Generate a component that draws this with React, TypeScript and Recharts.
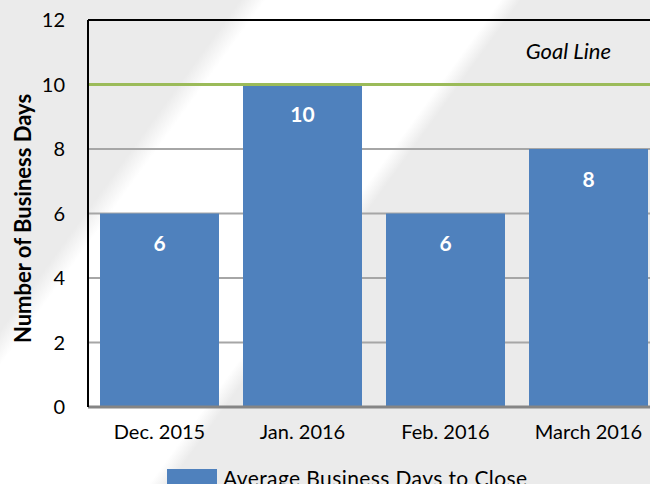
import React from 'react';
import { BarChart, Bar, XAxis, YAxis, CartesianGrid, ReferenceLine, LabelList, Legend } from 'recharts';

const months = ['Dec. 2015', 'Jan. 2016', 'Feb. 2016', 'March 2016'];
const avgDays = [6, 10, 6, 8];
const yTicks = [0, 2, 4, 6, 8, 10, 12];
const goalValue = 10;
const seriesName = 'Average Business Days to Close';

const data = months.map((m, i) => ({ month: m, days: avgDays[i] }));

const FONT = 'Lato, "Open Sans", sans-serif';
const BLUE = '#4f81bd';

const YTitle = (props: any) => {
  const vb = props.viewBox;
  const x = vb.x + 14;
  const y = vb.y + vb.height / 2 + 5;
  return (
    <text x={x} y={y} transform={`rotate(-90 ${x} ${y})`} textAnchor="middle" dominantBaseline="central"
      fontFamily={FONT} fontWeight="bold" fontSize={22} fill="#000">
      Number of Business Days
    </text>
  );
};

const GoalLabel = (props: any) => {
  const vb = props.viewBox;
  const x = vb.x + vb.width - 49;
  const y = vb.y - 34;
  return (
    <text x={x} y={y} textAnchor="end" dominantBaseline="central" fontFamily={FONT} fontStyle="italic" fontSize={22} fill="#000">
      Goal Line
    </text>
  );
};

const LegendContent = () => (
  <div style={{ display: 'flex', alignItems: 'center', justifyContent: 'flex-start', paddingLeft: 159, fontFamily: FONT, fontSize: 21, letterSpacing: 0.4, color: '#000', height: 24 }}>
    <div style={{ width: 50, height: 16, background: BLUE, marginRight: 6 }} />
    <span>{seriesName}</span>
  </div>
);

export default function App() {
  return (
    <div style={{ position: 'fixed', left: 0, top: 0, padding: 8, width: 650, height: 484, boxSizing: 'border-box', overflow: 'hidden',
      background: 'linear-gradient(126deg, #ebebeb 0%, #ebebeb 24%, #ffffff 26.5%, #ffffff 50%, #ebebeb 52%, #ebebeb 100%)' }}>
      <BarChart width={652} height={473} data={data} margin={{ top: 12, right: 0, bottom: 0, left: 0 }} barCategoryGap={12}>
        <CartesianGrid horizontal vertical={false} stroke="#a6a6a6" strokeWidth={2} />
        <XAxis dataKey="month" axisLine={{ stroke: '#858585', strokeWidth: 3 }} tickLine={false}
          tick={{ fontFamily: FONT, fontSize: 20, fill: '#000' }} tickMargin={12} height={50} interval={0} />
        <YAxis domain={[0, 12]} ticks={yTicks} width={80} axisLine={{ stroke: '#000', strokeWidth: 2 }} tickLine={false}
          tickSize={0} tickMargin={23} tick={{ fontFamily: FONT, fontSize: 20, fill: '#000' }}
          label={{ content: YTitle }} />
        <ReferenceLine y={12} stroke="#000" strokeWidth={2} />
        <Bar dataKey="days" name={seriesName} fill={BLUE} isAnimationActive={false}>
          <LabelList dataKey="days" position="insideTop" offset={23} fill="#fff" fontFamily={FONT} fontWeight="bold" fontSize={21} />
        </Bar>
        <ReferenceLine y={goalValue} stroke="#9bbb59" strokeWidth={3} label={{ content: GoalLabel }} />
        <Legend verticalAlign="bottom" content={LegendContent} wrapperStyle={{ bottom: -8 }} />
      </BarChart>
    </div>
  );
}
